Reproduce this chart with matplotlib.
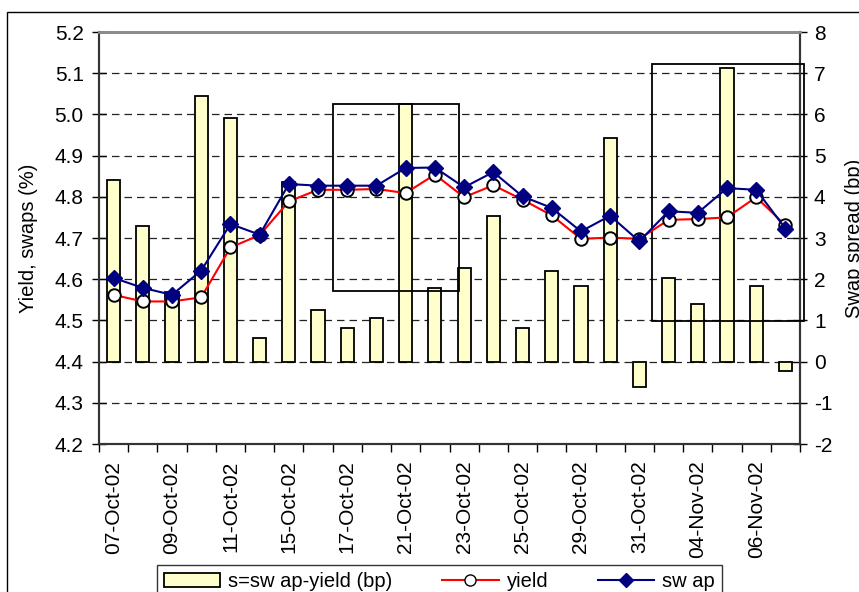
import matplotlib
matplotlib.use("Agg")
import matplotlib.pyplot as plt
from matplotlib.patches import Rectangle
from matplotlib.lines import Line2D
from matplotlib.patches import Patch

plt.rcParams["font.family"] = ["Liberation Sans", "DejaVu Sans"]

# Trading days, Oct-Nov 2002
dates = ["07-Oct-02", "08-Oct-02", "09-Oct-02", "10-Oct-02", "11-Oct-02",
         "14-Oct-02", "15-Oct-02", "16-Oct-02", "17-Oct-02", "18-Oct-02",
         "21-Oct-02", "22-Oct-02", "23-Oct-02", "24-Oct-02", "25-Oct-02",
         "28-Oct-02", "29-Oct-02", "30-Oct-02", "31-Oct-02", "01-Nov-02",
         "04-Nov-02", "05-Nov-02", "06-Nov-02", "07-Nov-02"]

# Yield and swap rates (%)
yield_pct = [4.562, 4.546, 4.546, 4.556, 4.677, 4.707, 4.789, 4.817, 4.817, 4.819,
             4.809, 4.854, 4.799, 4.828, 4.793, 4.755, 4.698, 4.701, 4.698, 4.744,
             4.746, 4.750, 4.799, 4.731]
swap_pct = [4.603, 4.579, 4.562, 4.621, 4.734, 4.708, 4.831, 4.827, 4.827, 4.827,
            4.870, 4.871, 4.823, 4.860, 4.801, 4.773, 4.716, 4.754, 4.692, 4.765,
            4.761, 4.821, 4.817, 4.723]

# Swap spread s = swap - yield (bp)
spread_bp = [4.41, 3.29, 1.70, 6.45, 5.92, 0.57, 4.35, 1.25, 0.82, 1.05,
             6.25, 1.78, 2.26, 3.53, 0.82, 2.21, 1.83, 5.42, -0.61, 2.02,
             1.40, 7.12, 1.83, -0.22]

left_ticks = [4.2, 4.3, 4.4, 4.5, 4.6, 4.7, 4.8, 4.9, 5.0, 5.1, 5.2]
right_ticks = [-2, -1, 0, 1, 2, 3, 4, 5, 6, 7, 8]

# Highlighted periods: (x0, x1) in day index, (y0, y1) in yield units
highlight_x = [(7.52, 11.83), (18.43, 23.64)]
highlight_y = [(4.572, 5.026), (4.498, 5.123)]

W, H = 859, 592
fig = plt.figure(figsize=(W / 100, H / 100), dpi=100)
rect = [99 / W, 1 - 444 / H, (800 - 99) / W, (444 - 32) / H]

ax_bp = fig.add_axes(rect)
x = list(range(len(dates)))

bars = ax_bp.bar(x, spread_bp, width=0.45, color="#FFFFCC", edgecolor="black",
                 linewidth=1.3, zorder=2)
ax_bp.set_ylim(right_ticks[0], right_ticks[-1])
ax_bp.set_xlim(-0.5, len(dates) - 0.5)
ax_bp.set_axisbelow(True)
ax_bp.yaxis.grid(True, color="#222222", linestyle=(0, (6, 4)), linewidth=0.9)

ax_y = ax_bp.twinx()
ax_bp.yaxis.tick_right()
ax_bp.yaxis.set_label_position("right")
ax_y.yaxis.tick_left()
ax_y.yaxis.set_label_position("left")

ax_bp.set_yticks(right_ticks)
ax_bp.set_yticklabels([str(t) for t in right_ticks])
ax_bp.tick_params(axis="y", direction="inout", length=10, width=1,
                  labelsize=15, pad=5)
ax_bp.set_ylabel("Swap spread (bp)", fontsize=14.5, labelpad=9, rotation=90)

ax_y.set_ylim(left_ticks[0], left_ticks[-1])
ax_y.set_yticks(left_ticks)
ax_y.set_yticklabels([f"{t:.1f}" for t in left_ticks])
ax_y.tick_params(axis="y", direction="inout", length=10, width=1,
                 labelsize=15, pad=6)
ax_y.set_ylabel("Yield, swaps (%)", fontsize=14.5, labelpad=12)

for (x0, x1), (y0, y1) in zip(highlight_x, highlight_y):
    ax_y.add_patch(Rectangle((x0, y0), x1 - x0, y1 - y0, fill=False,
                             edgecolor="black", linewidth=1.3, zorder=3,
                             clip_on=False))

ax_y.plot(x, yield_pct, color="#FF0000", linewidth=1.5, marker="o",
          markersize=9, markerfacecolor="white", markeredgecolor="black",
          markeredgewidth=1.4, zorder=4)
ax_y.plot(x, swap_pct, color="#000080", linewidth=1.5, marker="D",
          markersize=8, markerfacecolor="#000080", markeredgecolor="#000080",
          zorder=5)

# x axis: labels on every other day, ticks between days
ax_bp.set_xticks(x[::2])
ax_bp.set_xticklabels(dates[::2], rotation=90, fontsize=15)
ax_bp.set_xticks([i - 0.5 for i in range(len(dates) + 1)], minor=True)
ax_bp.tick_params(axis="x", which="major", length=0, pad=12)
ax_bp.tick_params(axis="x", which="minor", direction="out", length=6, width=1)

for ax in (ax_bp, ax_y):
    for side in ("left", "right", "bottom"):
        ax.spines[side].set_color("#333333")
        ax.spines[side].set_linewidth(1.5)
    ax.spines["top"].set_color("#8c8c8c")
    ax.spines["top"].set_linewidth(2)

handles = [Patch(facecolor="#FFFFCC", edgecolor="black", linewidth=1.3),
           Line2D([], [], color="#FF0000", linewidth=1.5, marker="o",
                  markersize=8, markerfacecolor="white", markeredgecolor="black"),
           Line2D([], [], color="#000080", linewidth=1.5, marker="D",
                  markersize=7, markerfacecolor="#000080")]
labels = ["s=sw ap-yield (bp)", "yield", "sw ap"]
leg = fig.legend(handles, labels, loc="upper center",
                 bbox_to_anchor=(157 / W, 0, 565 / W, 1 - 565 / H),
                 mode="expand", ncol=3, fontsize=14.5, frameon=True,
                 fancybox=False, edgecolor="black", borderaxespad=0,
                 handlelength=2.8, handletextpad=0.4, borderpad=0.35,
                 columnspacing=1.5)
leg.get_frame().set_linewidth(1.0)

# outer chart border
fig.patches.append(Rectangle((7 / W, -0.5), 2, 1 - 12 / H + 0.5, fill=False,
                             edgecolor="black", linewidth=1.0,
                             transform=fig.transFigure, figure=fig))

fig.savefig("out.png", dpi=100)
